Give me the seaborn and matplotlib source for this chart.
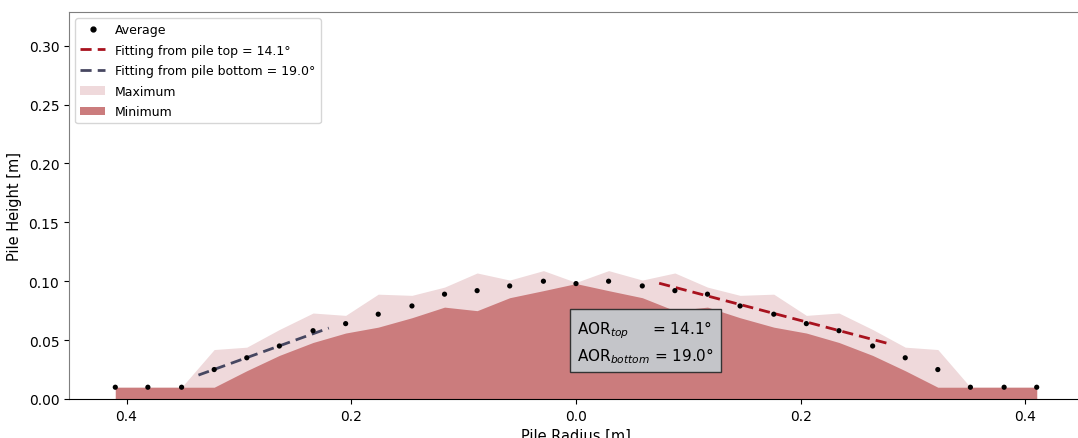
import numpy as np
import pandas as pd
import matplotlib
matplotlib.use("Agg")
import matplotlib.pyplot as plt
from matplotlib.ticker import FuncFormatter
from matplotlib.lines import Line2D
from matplotlib.patches import Patch
import seaborn as sns

# Radial positions of the measurement stations [m]
radius = [-0.410, -0.381, -0.351, -0.322, -0.293, -0.264, -0.234, -0.205,
          -0.176, -0.146, -0.117, -0.088, -0.059, -0.029, 0.000,
          0.029, 0.059, 0.088, 0.117, 0.146, 0.176, 0.205, 0.234,
          0.264, 0.293, 0.322, 0.351, 0.381, 0.410]

# Pile heights [m]
height_avg = [0.010, 0.010, 0.010, 0.025, 0.035, 0.045, 0.058, 0.064,
              0.072, 0.079, 0.089, 0.092, 0.096, 0.100, 0.098,
              0.100, 0.096, 0.092, 0.089, 0.079, 0.072, 0.064, 0.058,
              0.045, 0.035, 0.025, 0.010, 0.010, 0.010]
height_max = [0.010, 0.010, 0.010, 0.042, 0.044, 0.059, 0.073, 0.071,
              0.089, 0.088, 0.095, 0.107, 0.101, 0.109, 0.099,
              0.109, 0.101, 0.107, 0.095, 0.088, 0.089, 0.071, 0.073,
              0.059, 0.044, 0.042, 0.010, 0.010, 0.010]
height_min = [0.010, 0.010, 0.010, 0.010, 0.024, 0.037, 0.048, 0.056,
              0.061, 0.069, 0.078, 0.075, 0.086, 0.092, 0.098,
              0.092, 0.086, 0.075, 0.078, 0.069, 0.061, 0.056, 0.048,
              0.037, 0.024, 0.010, 0.010, 0.010, 0.010]

# Angle-of-repose fits: angle [deg], x-range [m], height at range start [m]
aor_top = 14.1
aor_bottom = 19.0
fit_top_x = [0.074, 0.279]
fit_top_y0 = 0.0983
fit_bottom_x = [-0.336, -0.220]
fit_bottom_y0 = 0.0203

df = pd.DataFrame({"radius": radius, "avg": height_avg,
                   "hmax": height_max, "hmin": height_min})

c_max = "#efd9db"
c_min = "#cb7c7d"
c_top = "#a8121e"
c_bottom = "#474761"

fig = plt.figure(figsize=(10.78, 4.39), dpi=100)
ax = fig.add_axes([69 / 1078, 39 / 439, 1014 / 1078, 387 / 439])

ax.fill_between(df["radius"], 0, df["hmax"], color=c_max, lw=0)
ax.fill_between(df["radius"], 0, df["hmin"], color=c_min, lw=0)

sns.scatterplot(data=df, x="radius", y="avg", color="black", s=14,
                edgecolor="none", ax=ax, zorder=4)

# Fitted slopes drawn from the stated angles
xt = np.array(fit_top_x)
yt = fit_top_y0 - np.tan(np.radians(aor_top)) * (xt - xt[0])
sns.lineplot(x=xt, y=yt, color=c_top, lw=2, ax=ax, zorder=3)
ax.lines[-1].set_dashes([4, 2.2])

xb = np.array(fit_bottom_x)
yb = fit_bottom_y0 + np.tan(np.radians(aor_bottom)) * (xb - xb[0])
sns.lineplot(x=xb, y=yb, color=c_bottom, lw=2, ax=ax, zorder=3)
ax.lines[-1].set_dashes([4, 2.2])

ax.set_xlim(-0.4512, 0.4512)
ax.set_ylim(0, 0.3286)
ax.xaxis.set_major_formatter(FuncFormatter(lambda v, p: f"{abs(v):.1f}"))
ax.set_yticks([0.0, 0.05, 0.10, 0.15, 0.20, 0.25, 0.30])
ax.tick_params(axis="x", pad=3.5)
ax.set_xlabel("Pile Radius [m]", fontsize=10.5)
ax.set_ylabel("Pile Height [m]", fontsize=10.5, labelpad=5)

for side in ("left", "top", "right"):
    ax.spines[side].set_color("#7f7f7f")
ax.spines["bottom"].set_color("black")

ax.text(0.0012, 0.0488,
        "AOR$_{top}$     = " + f"{aor_top:.1f}°\n" +
        "AOR$_{bottom}$ = " + f"{aor_bottom:.1f}°",
        fontsize=11, ha="left", va="center", zorder=6, linespacing=1.35,
        bbox=dict(boxstyle="square,pad=0.45", facecolor="#c4c5c9",
                  edgecolor="#333333", lw=1))

handles = [
    Line2D([], [], ls="none", marker="o", color="black", markersize=3.5),
    Line2D([], [], color=c_top, lw=2, dashes=[4, 2.2]),
    Line2D([], [], color=c_bottom, lw=2, dashes=[4, 2.2]),
    Patch(facecolor=c_max, edgecolor="none"),
    Patch(facecolor=c_min, edgecolor="none"),
]
labels = ["Average",
          f"Fitting from pile top = {aor_top:.1f}°",
          f"Fitting from pile bottom = {aor_bottom:.1f}°",
          "Maximum", "Minimum"]
ax.legend(handles, labels, loc="upper left", fontsize=9, labelspacing=0.6)

fig.savefig("out.png", dpi=100)
